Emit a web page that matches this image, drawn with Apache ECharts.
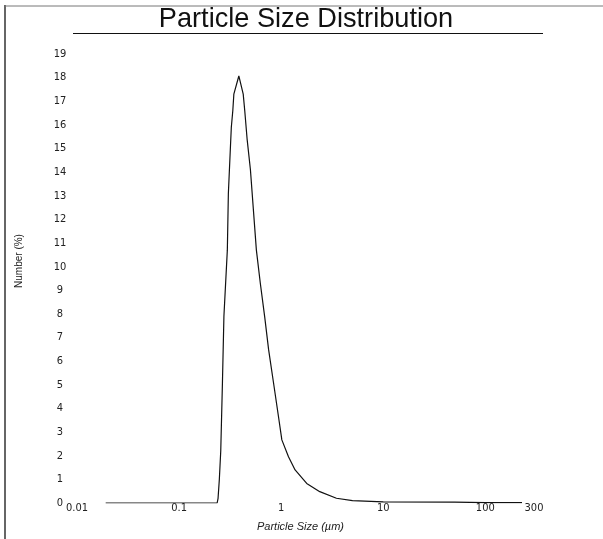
<!DOCTYPE html>
<html>
<head>
<meta charset="utf-8">
<script src="https://cdn.jsdelivr.net/npm/echarts@6/dist/echarts.min.js"></script>
<style>html,body{margin:0;padding:0;background:#fff}#c{width:603px;height:539px}</style>
</head>
<body>
<div id="c"></div>
<script>
const titleText = 'Particle Size Distribution';
const xName = 'Particle Size (\u00b5m)';
const yName = 'Number (%)';
const sizes = [0.0191, 0.05, 0.1, 0.2, 0.236, 0.241, 0.248, 0.256, 0.266, 0.275, 0.297, 0.304, 0.318, 0.325, 0.336, 0.344, 0.385, 0.425, 0.44, 0.464, 0.5, 0.572, 0.625, 0.689, 0.753, 0.841, 0.942, 1.016, 1.18, 1.37, 1.78, 2.39, 3.48, 5.0, 10, 50, 100, 229];
const numberPct = [0, 0, 0, 0, 0, 0.2, 1.0, 2.2, 5.1, 7.9, 10.7, 13.1, 15.0, 15.9, 16.6, 17.3, 18.07, 17.3, 16.6, 15.4, 14.1, 10.7, 9.3, 7.9, 6.5, 5.1, 3.65, 2.67, 1.96, 1.40, 0.83, 0.48, 0.20, 0.10, 0.05, 0.04, 0.02, 0.02];
const xTickLabels = ['0.01', '0.1', '1', '10', '100', '300'];
const yMin = 0, yMax = 19;

const narrow = '"DejaVu Sans Condensed", "Liberation Sans Narrow", "Liberation Sans", sans-serif';
const chart = echarts.init(document.getElementById('c'), null, {renderer: 'canvas'});
const data = sizes.map((s, i) => [s, numberPct[i]]);
chart.setOption({
  animation: false,
  backgroundColor: '#fff',
  graphic: [
    {type: 'line', shape: {x1: 5, y1: 5, x2: 5, y2: 539}, style: {stroke: '#333', lineWidth: 1.5}},
    {type: 'line', shape: {x1: 5, y1: 6, x2: 603, y2: 6}, style: {stroke: '#777', lineWidth: 1}},
    {type: 'line', shape: {x1: 73, y1: 33.5, x2: 543, y2: 33.5}, style: {stroke: '#111', lineWidth: 1}},
    {type: 'text', x: 306, y: 19, scaleX: 0.97, style: {text: titleText, textAlign: 'center', textVerticalAlign: 'middle',
      font: 'normal 28px "Liberation Sans", Arial, sans-serif', fill: '#111'}},
    {type: 'text', x: 19, y: 261, rotation: Math.PI / 2, style: {text: yName, textAlign: 'center', textVerticalAlign: 'middle',
      font: 'normal 10px "Liberation Sans", Arial, sans-serif', fill: '#222'}}
  ],
  grid: {left: 77, right: 69, top: 54, bottom: 36},
  xAxis: {
    type: 'log', logBase: 10, min: 0.01, max: 300,
    name: xName, nameLocation: 'middle', nameGap: 18,
    nameTextStyle: {fontFamily: '"Liberation Sans", Arial, sans-serif', fontStyle: 'italic', fontSize: 11, color: '#222', padding: [0, 10, 0, 0]},
    axisLine: {show: false}, axisTick: {show: false}, splitLine: {show: false},
    axisLabel: {
      margin: 0, fontFamily: narrow, fontSize: 11, color: '#222', showMaxLabel: true, showMinLabel: true,
      formatter: v => {
        const s = String(+(+v).toPrecision(3));
        const idx = xTickLabels.indexOf(s);
        return idx >= 0 ? xTickLabels[idx] : s;
      }
    }
  },
  yAxis: {
    type: 'value', min: yMin, max: yMax, interval: 1,
    axisLine: {show: false}, axisTick: {show: false}, splitLine: {show: false},
    axisLabel: {margin: 17, align: 'center', fontFamily: narrow, fontSize: 11, color: '#222'}
  },
  series: [{
    type: 'line', data: data, showSymbol: false, smooth: false,
    lineStyle: {color: '#111', width: 1.2}
  }]
});
</script>
</body>
</html>
